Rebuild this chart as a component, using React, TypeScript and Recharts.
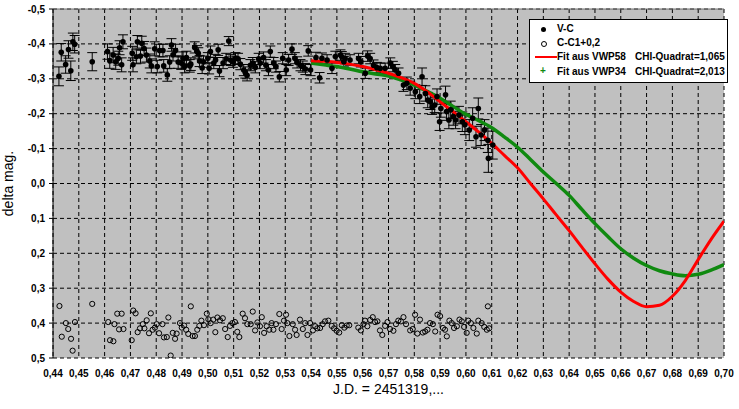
import React from "react";
import {
  ComposedChart,
  Scatter,
  Line,
  XAxis,
  YAxis,
  CartesianGrid,
  ErrorBar,
  ReferenceLine,
} from "recharts";

// V-C measurements: [J.D. fraction, delta mag, error]
const vcPoints: number[][] = [
  [0.4423, -0.307, 0.027], [0.4432, -0.376, 0.025], [0.4449, -0.341, 0.025], [0.446, -0.384, 0.025],
  [0.4469, -0.323, 0.028], [0.4477, -0.406, 0.025], [0.4484, -0.399, 0.025], [0.4552, -0.349, 0.026],
  [0.4611, -0.378, 0.022], [0.462, -0.352, 0.022], [0.4633, -0.368, 0.022], [0.4643, -0.349, 0.022],
  [0.4653, -0.359, 0.02], [0.4658, -0.389, 0.02], [0.4666, -0.34, 0.02], [0.4671, -0.406, 0.02],
  [0.4707, -0.373, 0.02], [0.471, -0.34, 0.02], [0.4723, -0.363, 0.02], [0.4727, -0.406, 0.018],
  [0.4739, -0.365, 0.02], [0.4744, -0.402, 0.02], [0.4753, -0.387, 0.02], [0.4762, -0.368, 0.02],
  [0.4775, -0.351, 0.02], [0.4781, -0.337, 0.02], [0.4794, -0.386, 0.02], [0.4804, -0.335, 0.018],
  [0.4813, -0.381, 0.018], [0.4826, -0.381, 0.018], [0.4829, -0.337, 0.018], [0.4843, -0.311, 0.018],
  [0.4852, -0.348, 0.018], [0.4859, -0.397, 0.018], [0.4865, -0.369, 0.018], [0.4875, -0.381, 0.018],
  [0.4885, -0.348, 0.018], [0.4897, -0.345, 0.018], [0.4904, -0.359, 0.018], [0.491, -0.335, 0.018],
  [0.4917, -0.361, 0.018], [0.493, -0.337, 0.018], [0.4934, -0.342, 0.018], [0.4949, -0.39, 0.016],
  [0.4958, -0.379, 0.016], [0.4963, -0.373, 0.016], [0.4968, -0.351, 0.016], [0.4978, -0.331, 0.016],
  [0.4983, -0.349, 0.016], [0.5, -0.359, 0.016], [0.5005, -0.33, 0.016], [0.501, -0.378, 0.016],
  [0.5023, -0.345, 0.016], [0.503, -0.354, 0.016], [0.504, -0.383, 0.016], [0.5045, -0.322, 0.016],
  [0.5059, -0.345, 0.016], [0.5071, -0.357, 0.016], [0.5081, -0.408, 0.013], [0.5088, -0.354, 0.016],
  [0.5097, -0.349, 0.016], [0.5107, -0.359, 0.016], [0.5117, -0.357, 0.016], [0.5126, -0.342, 0.016],
  [0.5139, -0.325, 0.016], [0.5145, -0.318, 0.016], [0.5152, -0.31, 0.016], [0.5165, -0.339, 0.016],
  [0.5174, -0.345, 0.016], [0.5184, -0.333, 0.016], [0.5197, -0.357, 0.016], [0.5203, -0.345, 0.016],
  [0.5216, -0.361, 0.016], [0.5225, -0.339, 0.016], [0.5235, -0.325, 0.016], [0.5242, -0.378, 0.016],
  [0.5255, -0.345, 0.016], [0.5264, -0.335, 0.016], [0.5277, -0.306, 0.015], [0.529, -0.359, 0.016],
  [0.5304, -0.325, 0.016], [0.5313, -0.354, 0.016], [0.5326, -0.385, 0.015], [0.5337, -0.359, 0.016],
  [0.5346, -0.347, 0.016], [0.5359, -0.339, 0.016], [0.5368, -0.335, 0.016], [0.5378, -0.328, 0.016],
  [0.5389, -0.38, 0.015], [0.5398, -0.325, 0.016], [0.5419, -0.361, 0.015], [0.5433, -0.303, 0.015],
  [0.5442, -0.359, 0.015], [0.5462, -0.354, 0.015], [0.5481, -0.33, 0.015], [0.5494, -0.364, 0.015],
  [0.5514, -0.368, 0.015], [0.5519, -0.363, 0.015], [0.5527, -0.349, 0.015], [0.5532, -0.358, 0.015],
  [0.5551, -0.354, 0.015], [0.5584, -0.358, 0.015], [0.5593, -0.349, 0.015], [0.561, -0.316, 0.015],
  [0.5619, -0.365, 0.015], [0.5629, -0.358, 0.015], [0.5642, -0.339, 0.015], [0.5655, -0.332, 0.015],
  [0.5668, -0.33, 0.015], [0.5687, -0.33, 0.015], [0.5707, -0.345, 0.015], [0.5717, -0.335, 0.015],
  [0.5726, -0.326, 0.015], [0.5739, -0.316, 0.015], [0.5758, -0.282, 0.018], [0.5771, -0.287, 0.018],
  [0.5784, -0.273, 0.02], [0.5804, -0.263, 0.02], [0.5821, -0.249, 0.02], [0.583, -0.306, 0.025],
  [0.5843, -0.258, 0.022], [0.5852, -0.239, 0.022], [0.5862, -0.234, 0.022], [0.5869, -0.22, 0.022],
  [0.5879, -0.225, 0.022], [0.5888, -0.249, 0.022], [0.5898, -0.177, 0.025], [0.5903, -0.215, 0.025],
  [0.5921, -0.254, 0.025], [0.5925, -0.206, 0.025], [0.5934, -0.182, 0.025], [0.5941, -0.211, 0.025],
  [0.5951, -0.192, 0.025], [0.596, -0.182, 0.025], [0.5973, -0.196, 0.025], [0.5986, -0.177, 0.028],
  [0.5996, -0.168, 0.028], [0.6013, -0.153, 0.03], [0.6026, -0.187, 0.03], [0.6039, -0.134, 0.03],
  [0.6048, -0.215, 0.03], [0.6059, -0.139, 0.03], [0.6072, -0.153, 0.03], [0.6085, -0.124, 0.035],
  [0.6087, -0.072, 0.04], [0.6104, -0.11, 0.04],
];

// C-C1 + 0,2 comparison star: [J.D. fraction, delta mag]
const ccPoints: number[][] = [
  [0.4425, 0.351], [0.4434, 0.439], [0.445, 0.4], [0.4459, 0.417], [0.447, 0.445], [0.4476, 0.479],
  [0.4485, 0.397], [0.4552, 0.345], [0.4614, 0.397], [0.4621, 0.449], [0.4634, 0.452], [0.4638, 0.403],
  [0.4649, 0.373], [0.4656, 0.418], [0.4666, 0.373], [0.4673, 0.417], [0.4705, 0.449], [0.4711, 0.364],
  [0.472, 0.372], [0.4728, 0.426], [0.4737, 0.415], [0.4748, 0.403], [0.4754, 0.415], [0.4763, 0.392],
  [0.4772, 0.429], [0.4779, 0.372], [0.4786, 0.419], [0.4795, 0.413], [0.4802, 0.403], [0.4811, 0.429],
  [0.4824, 0.403], [0.483, 0.441], [0.4841, 0.44], [0.4847, 0.384], [0.4856, 0.493], [0.4864, 0.428],
  [0.4873, 0.445], [0.4879, 0.43], [0.4892, 0.4], [0.4899, 0.413], [0.4908, 0.407], [0.4916, 0.419],
  [0.4924, 0.431], [0.4934, 0.352], [0.4941, 0.437], [0.495, 0.437], [0.4959, 0.419], [0.4967, 0.408],
  [0.4975, 0.393], [0.4985, 0.406], [0.4996, 0.373], [0.5002, 0.389], [0.5011, 0.4], [0.5021, 0.39],
  [0.5029, 0.426], [0.5037, 0.384], [0.5047, 0.392], [0.5058, 0.386], [0.5067, 0.417], [0.5077, 0.44],
  [0.5086, 0.408], [0.5095, 0.4], [0.5105, 0.397], [0.5114, 0.425], [0.5122, 0.44], [0.5135, 0.373],
  [0.5144, 0.386], [0.5153, 0.403], [0.5166, 0.403], [0.5174, 0.367], [0.5183, 0.421], [0.5192, 0.398],
  [0.5202, 0.409], [0.5209, 0.383], [0.5218, 0.428], [0.5228, 0.409], [0.5238, 0.419], [0.5247, 0.4],
  [0.5254, 0.419], [0.5264, 0.403], [0.5277, 0.374], [0.5286, 0.417], [0.5295, 0.393], [0.5303, 0.376],
  [0.5308, 0.4], [0.5316, 0.437], [0.5329, 0.403], [0.5338, 0.419], [0.5344, 0.434], [0.5357, 0.39],
  [0.5368, 0.417], [0.5377, 0.4], [0.5386, 0.434], [0.5396, 0.4], [0.5407, 0.421], [0.5416, 0.409],
  [0.5424, 0.415], [0.5435, 0.414], [0.5445, 0.403], [0.5454, 0.395], [0.5467, 0.393], [0.548, 0.408],
  [0.5489, 0.415], [0.5499, 0.422], [0.5509, 0.427], [0.5519, 0.406], [0.5529, 0.413], [0.5538, 0.407],
  [0.5548, 0.406], [0.5583, 0.413], [0.5593, 0.421], [0.5603, 0.403], [0.5609, 0.393], [0.5618, 0.409],
  [0.5629, 0.391], [0.5639, 0.383], [0.5648, 0.397], [0.5657, 0.395], [0.5667, 0.421], [0.5676, 0.434],
  [0.5687, 0.408], [0.5696, 0.397], [0.5706, 0.417], [0.5719, 0.422], [0.5729, 0.403], [0.5738, 0.393],
  [0.5748, 0.395], [0.5758, 0.383], [0.5768, 0.403], [0.5784, 0.421], [0.5794, 0.417], [0.5803, 0.376],
  [0.5812, 0.43], [0.5822, 0.39], [0.5833, 0.427], [0.5842, 0.424], [0.5851, 0.419], [0.5861, 0.4],
  [0.5872, 0.403], [0.5881, 0.424], [0.589, 0.376], [0.59, 0.38], [0.5911, 0.414], [0.5919, 0.419],
  [0.5926, 0.438], [0.5936, 0.393], [0.5945, 0.4], [0.5954, 0.414], [0.5965, 0.409], [0.5975, 0.39],
  [0.5984, 0.395], [0.5993, 0.411], [0.6003, 0.428], [0.6009, 0.393], [0.6019, 0.4], [0.6029, 0.414],
  [0.6042, 0.43], [0.6048, 0.393], [0.6061, 0.4], [0.6071, 0.411], [0.6081, 0.419], [0.6085, 0.352],
  [0.609, 0.415],
];

// fit curves
const fitX = [
  0.54, 0.545, 0.55, 0.555, 0.56, 0.565, 0.57, 0.575, 0.58, 0.585, 0.59, 0.595, 0.6, 0.605, 0.61, 0.615, 0.62,
  0.625, 0.63, 0.635, 0.64, 0.645, 0.65, 0.655, 0.66, 0.665, 0.67, 0.675, 0.68, 0.685, 0.69, 0.695, 0.7,
];
const fitVWP58 = [
  -0.352, -0.35, -0.347, -0.342, -0.335, -0.326, -0.316, -0.303, -0.287, -0.263, -0.234, -0.206, -0.177,
  -0.147, -0.115, -0.08, -0.045, 0.0, 0.044, 0.09, 0.135, 0.183, 0.23, 0.274, 0.311, 0.338, 0.353, 0.349,
  0.323, 0.278, 0.218, 0.16, 0.108,
];
const fitVWP34 = [
  -0.345, -0.34, -0.335, -0.328, -0.32, -0.314, -0.308, -0.296, -0.282, -0.264, -0.244, -0.221, -0.198,
  -0.18, -0.16, -0.133, -0.104, -0.069, -0.033, 0.0, 0.034, 0.075, 0.115, 0.152, 0.187, 0.214, 0.235, 0.25,
  0.259, 0.264, 0.26, 0.248, 0.232,
];

const xTicks = [
  0.44, 0.45, 0.46, 0.47, 0.48, 0.49, 0.5, 0.51, 0.52, 0.53, 0.54, 0.55, 0.56, 0.57, 0.58, 0.59, 0.6, 0.61,
  0.62, 0.63, 0.64, 0.65, 0.66, 0.67, 0.68, 0.69, 0.7,
];
const yTicks = [-0.5, -0.4, -0.3, -0.2, -0.1, 0, 0.1, 0.2, 0.3, 0.4, 0.5];

const vcData = vcPoints.map(([x, y, err]) => ({ x, y, err }));
const ccData = ccPoints.map(([x, y]) => ({ x, y }));
const fit58Data = fitX.map((x, i) => ({ x, y: fitVWP58[i] }));
const fit34Data = fitX.map((x, i) => ({ x, y: fitVWP34[i] }));

const FONT = '"Liberation Sans", Arial, sans-serif';
const comma = (d: number) => (v: number) => v.toFixed(d).replace(".", ",");

const tickStyle = { fontFamily: FONT, fontSize: 10, fontWeight: "bold", fill: "#000" } as const;

const OpenCircle = (props: any) => (
  <circle cx={props.cx} cy={props.cy} r={2.6} fill="none" stroke="#000" strokeWidth={1} />
);
const Dot = (props: any) => <circle cx={props.cx} cy={props.cy} r={2.8} fill="#000" />;

const legendText: React.CSSProperties = {
  position: "absolute",
  fontFamily: FONT,
  fontSize: 10,
  fontWeight: "bold",
  whiteSpace: "pre",
  lineHeight: "12px",
};

const ChartLegend = () => (
  <div
    style={{
      position: "absolute",
      left: 529,
      top: 19,
      width: 197,
      height: 62,
      background: "#fff",
      border: "1px solid #000",
    }}
  >
    <div style={{ position: "absolute", left: 11, top: 7, width: 5, height: 5, borderRadius: 3, background: "#000" }} />
    <span style={{ ...legendText, left: 27, top: 3 }}>V-C</span>
    <div style={{ position: "absolute", left: 11, top: 21, width: 4, height: 4, borderRadius: 3, border: "1px solid #000" }} />
    <span style={{ ...legendText, left: 27, top: 17 }}>C-C1+0,2</span>
    <div style={{ position: "absolute", left: 5, top: 36, width: 22, height: 2, background: "#ff0000" }} />
    <span style={{ ...legendText, left: 27, top: 31 }}>Fit aus VWP58</span>
    <span style={{ ...legendText, left: 105, top: 31 }}>CHI-Quadrat=1,065</span>
    <span style={{ ...legendText, left: 10, top: 45, color: "#108a10" }}>+</span>
    <span style={{ ...legendText, left: 27, top: 46 }}>Fit aus VWP34</span>
    <span style={{ ...legendText, left: 105, top: 46 }}>CHI-Quadrat=2,013</span>
  </div>
);

export default function App() {
  return (
    <div style={{ position: "absolute", left: 0, top: 0, width: 739, height: 409, background: "#fff" }}>
      <ComposedChart width={739} height={409} margin={{ top: 9, right: 15, left: 0, bottom: 0 }}>
        <CartesianGrid
          fill="#c0c0c0"
          stroke="#000"
          strokeDasharray="4 3"
          horizontalValues={yTicks}
          verticalValues={xTicks}
        />
        <XAxis
          type="number"
          dataKey="x"
          domain={[0.44, 0.7]}
          ticks={xTicks}
          interval={0}
          allowDataOverflow
          axisLine={false}
          tickLine={false}
          tickMargin={6}
          height={51}
          tickFormatter={comma(2)}
          tick={tickStyle}
          label={{
            value: "J.D. = 2451319,...",
            position: "insideBottom",
            offset: 15,
            style: { fontFamily: FONT, fontSize: 14, fill: "#000" },
          }}
        />
        <YAxis
          type="number"
          dataKey="y"
          domain={[-0.5, 0.5]}
          reversed
          ticks={yTicks}
          interval={0}
          allowDataOverflow
          width={53}
          axisLine={{ stroke: "#000", strokeWidth: 1 }}
          tickLine={{ stroke: "#000" }}
          tickSize={4}
          tickMargin={4}
          tickFormatter={comma(1)}
          tick={tickStyle}
          label={{
            value: "delta mag.",
            angle: -90,
            position: "insideLeft",
            offset: 8,
            style: { fontFamily: FONT, fontSize: 14, fill: "#000", textAnchor: "middle" },
          }}
        />
        <ReferenceLine y={-0.5} stroke="#707070" strokeWidth={1} />
        <Scatter data={ccData} dataKey="y" shape={OpenCircle} isAnimationActive={false} />
        <Scatter data={vcData} dataKey="y" shape={Dot} isAnimationActive={false}>
          <ErrorBar dataKey="err" direction="y" width={5} stroke="#000" strokeWidth={1} />
        </Scatter>
        <Line
          data={fit34Data}
          dataKey="y"
          type="monotone"
          stroke="#108a10"
          strokeWidth={3.5}
          dot={false}
          isAnimationActive={false}
        />
        <Line
          data={fit58Data}
          dataKey="y"
          type="monotone"
          stroke="#ff0000"
          strokeWidth={3}
          dot={false}
          isAnimationActive={false}
        />
      </ComposedChart>
      <ChartLegend />
    </div>
  );
}
